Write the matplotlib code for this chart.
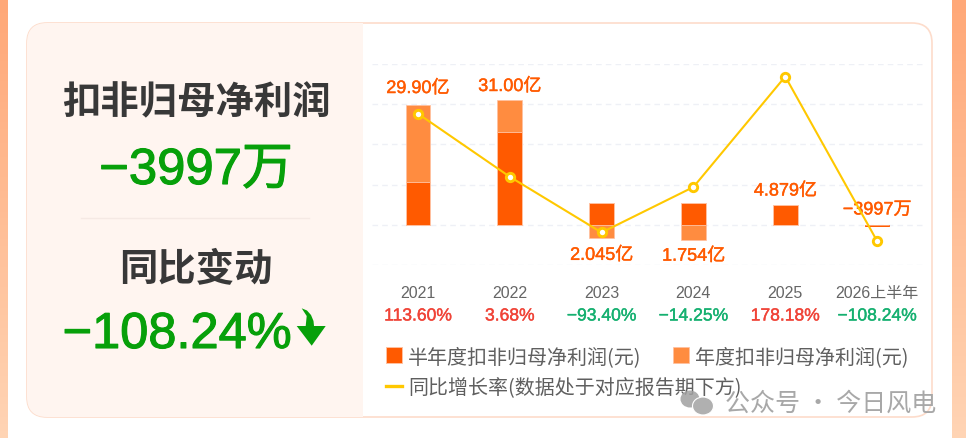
import numpy as np
import matplotlib
matplotlib.use("Agg")
import matplotlib.pyplot as plt
import matplotlib.patheffects as pe
from matplotlib.lines import Line2D
from matplotlib.patches import FancyBboxPatch, Polygon, Rectangle, Ellipse
from matplotlib.colors import LinearSegmentedColormap

years = ["2021", "2022", "2023", "2024", "2025", "2026上半年"]
half_profit = [10.7, 23.0, 5.3, 5.5, 4.879, -0.3997]
annual_rest = [19.2, 8.0, -3.3, -3.75, 0.0, 0.0]
bar_labels = ["29.90亿", "31.00亿", "2.045亿", "1.754亿", "4.879亿", "−3997万"]
label_y = [33.9, 34.4, -7.6, -7.8, 8.4, 3.7]
yoy = [113.60, 3.68, -93.40, -14.25, 178.18, -108.24]

W, H = 966, 439
LAT = ["Liberation Sans", "Noto Sans CJK SC"]
CJK = ["Noto Sans CJK SC", "DejaVu Sans"]
plt.rcParams["font.family"] = CJK
C_HALF, C_YEAR, C_LINE = "#ff5a00", "#ff8c40", "#ffc800"
GREEN = "#07a00a"

def fx(x): return x / W
def fy(y): return 1 - y / H
def stroke(c, w=0.5): return [pe.withStroke(linewidth=w, foreground=c)]

fig = plt.figure(figsize=(W / 100, H / 100), dpi=100, facecolor="white")

# page background: orange side strips and card
bg = fig.add_axes([0, 0, 1, 1], zorder=0)
bg.axis("off")
cmap = LinearSegmentedColormap.from_list("s", ["#ffa878", "#ffd4b4"])
grad = np.linspace(0, 1, 64).reshape(-1, 1)
bg.imshow(grad, extent=(0, 8, H, 0), cmap=cmap, aspect="auto", zorder=1)
bg.imshow(grad, extent=(952, W, H, 0), cmap=cmap, aspect="auto", zorder=1)
bg.set_xlim(0, W); bg.set_ylim(H, 0)
card = FancyBboxPatch((27, 24), 905, 394, boxstyle="round,pad=0,rounding_size=20",
                      fc="white", ec="#fddccb", lw=1.2, zorder=2)
bg.add_patch(card)
left = Rectangle((27, 24), 336, 394, fc="#fff5f0", ec="none", zorder=3)
bg.add_patch(left)
left.set_clip_path(card)
bg.plot([81, 309], [218.5, 218.5], color="#f5e9e4", lw=1, zorder=4)
arrow_shape = [(301.7, 309.3), (307, 311.5), (311, 316), (313.5, 322), (314, 327), (325.7, 327),
               (311.7, 346.7), (296.7, 327), (305.7, 327), (306.7, 317)]
bg.add_patch(Polygon(arrow_shape, closed=True, fc=GREEN, ec="none", zorder=4))

# left panel texts
fig.text(fx(196), fy(103), "扣非归母净利润", fontsize=27.6, fontweight="bold", color="#383838",
         ha="center", va="center", family=CJK, zorder=5)
fig.text(fx(196), fy(185), "−3997万", fontsize=36.6, color=GREEN, ha="center", va="baseline",
         family=LAT, path_effects=stroke(GREEN, 0.8), zorder=5)
fig.text(fx(196), fy(269), "同比变动", fontsize=27.6, fontweight="bold", color="#383838",
         ha="center", va="center", family=CJK, zorder=5)
fig.text(fx(177), fy(349), "−108.24%", fontsize=36.4, color=GREEN, ha="center", va="baseline",
         family=LAT, path_effects=stroke(GREEN, 0.8), zorder=5)

# chart
ax = fig.add_axes([fx(372), fy(266), (923 - 372) / W, (266 - 65) / H], zorder=2)
ax.patch.set_alpha(0)
ax.set_xlim(-0.5, 5.5); ax.set_ylim(-10, 40)
x = np.arange(len(years))
edge = ["#ffc0a0" if h > 0 else C_HALF for h in half_profit]
ax.bar(x, half_profit, width=0.27, color=C_HALF, edgecolor=edge, lw=0.7,
       label="半年度扣非归母净利润(元)", zorder=3)
bottoms = [h if r > 0 else 0 for h, r in zip(half_profit, annual_rest)]
ax.bar(x, annual_rest, width=0.27, bottom=bottoms, color=C_YEAR, edgecolor="#ffc0a0", lw=0.5,
       label="年度扣非归母净利润(元)", zorder=3)
ax.set_yticks([-10, 0, 10, 20, 30, 40])
ax.yaxis.grid(True, color="#eef0f6", lw=1, ls=(0, (4, 3)))
ax.set_axisbelow(True)
ax.tick_params(axis="both", length=0)
ax.tick_params(axis="y", labelleft=False)
ax.set_xticks(x)
ax.set_xticklabels(years, fontsize=11.5, color="#666666", family=LAT)
ax.tick_params(axis="x", pad=14.5)
for s in ax.spines.values():
    s.set_visible(False)
for xi, t, ly in zip(x, bar_labels, label_y):
    ax.text(xi, ly, t, fontsize=13, color=C_HALF, ha="center", va="center", family=LAT,
            path_effects=stroke(C_HALF, 0.3), zorder=6)

ax2 = ax.twinx()
ax2.set_ylim(-150, 200)
ax2.plot(x, yoy, color=C_LINE, lw=1.5, marker="o", ms=6, mfc="white", mec=C_LINE, mew=2.1,
         label="同比增长率(数据处于对应报告期下方)", zorder=5)
ax2.set_yticks([]); ax2.patch.set_alpha(0)
for s in ax2.spines.values():
    s.set_visible(False)

# percent row
for xi, v in zip(x, yoy):
    c = "#f04438" if v > 0 else "#15b070"
    t = f"{v:.2f}%".replace("-", "−")
    ax.annotate(t, (xi, 0), xycoords=("data", "axes fraction"), xytext=(0, -51 * 0.72),
                textcoords="offset points", ha="center", va="center", fontsize=12.6, color=c,
                family=LAT, path_effects=stroke(c, 0.28), annotation_clip=False)

h1, l1 = ax.get_legend_handles_labels()
_, l2 = ax2.get_legend_handles_labels()
line_handle = Line2D([], [], color=C_LINE, lw=2.4)
# columns fill top to bottom: column 1 = half-year, yoy; column 2 = annual
leg = fig.legend([h1[0], line_handle, h1[1]], [l1[0], l2[0], l1[1]], ncols=2, frameon=False,
                 loc="upper left", bbox_to_anchor=(fx(386), fy(347)), prop={"size": 14.4, "family": CJK},
                 handlelength=0.8, handleheight=0.8, handletextpad=0.3, columnspacing=-3.42,
                 labelspacing=0.52, labelcolor="#5f5f5f", borderpad=0, borderaxespad=0)
leg.set_zorder(7)

# watermark
wm = fig.add_axes([0, 0, 1, 1], zorder=8)
wm.axis("off"); wm.set_xlim(0, W); wm.set_ylim(H, 0); wm.patch.set_alpha(0)
wm.add_patch(Ellipse((690, 400), 19, 17, fc="#a0a0a0", ec="none", alpha=0.85))
wm.add_patch(Ellipse((703, 407), 21, 18, fc="#b0b0b0", ec="white", lw=0.8))
wm.text(725, 404, "公众号 · 今日风电", fontsize=18, color="#a8a8a8", ha="left", va="center", family=CJK)

fig.savefig("out.png", dpi=100, facecolor="white")
